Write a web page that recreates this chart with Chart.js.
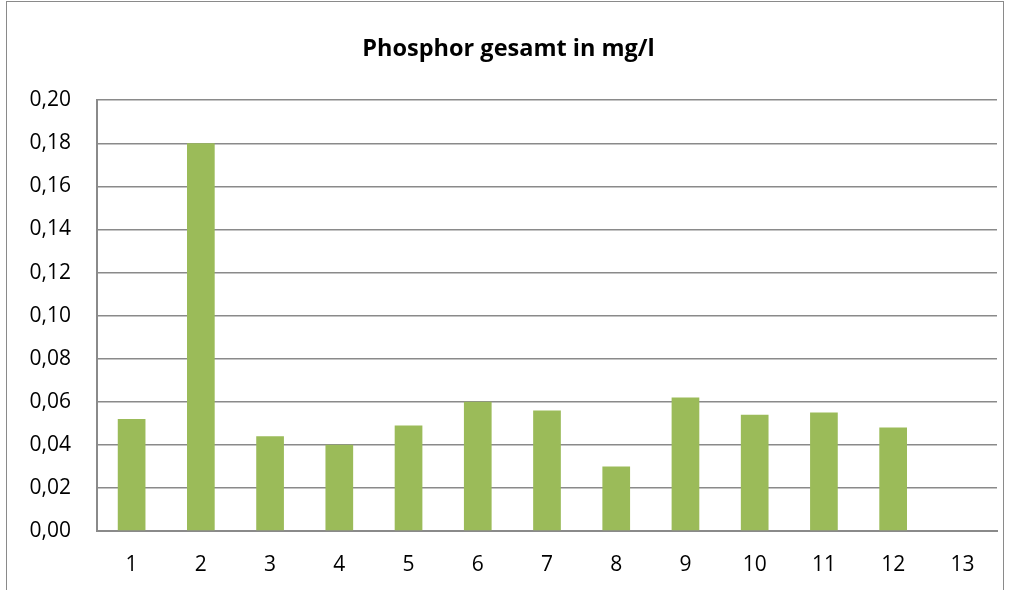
<!DOCTYPE html>
<html>
<head>
<meta charset="utf-8">
<script src="https://cdn.jsdelivr.net/npm/chart.js@4"></script>
<style>
  html, body { margin: 0; padding: 0; background: #fff; }
  #wrap { position: relative; width: 1009px; height: 590px; overflow: hidden; }
  #frame {
    position: absolute; left: 6px; top: 1px; width: 998px; height: 620px;
    border: 1.5px solid #8a8a8a; box-sizing: border-box; pointer-events: none;
  }
  canvas { position: absolute; left: 0; top: 0; }
</style>
</head>
<body>
<div id="wrap">
  <canvas id="chart" width="1009" height="590"></canvas>
  <div id="frame"></div>
</div>
<script>
const categories = ['1', '2', '3', '4', '5', '6', '7', '8', '9', '10', '11', '12', '13'];
const phosphor = [0.052, 0.18, 0.044, 0.040, 0.049, 0.060, 0.056, 0.030, 0.062, 0.054, 0.055, 0.048, null];
const yMin = 0;
const yMax = 0.20;
const yStep = 0.02;

const barColor = '#9BBB59';
const gridColor = '#8a8a8a';
const font = '"Open Sans", Lato, sans-serif';

// a tiny plugin: nudge the title a bit right, as in the original sheet
const titleShift = {
  id: 'titleShift',
  beforeDraw(chart) {
    chart.titleBlock.left += 10;
    chart.titleBlock.right += 10;
  }
};

new Chart(document.querySelector('#chart'), {
  type: 'bar',
  data: {
    labels: categories,
    datasets: [{
      label: 'Phosphor gesamt in mg/l',
      data: phosphor,
      backgroundColor: barColor,
      borderWidth: 0,
      barPercentage: 0.4,
      categoryPercentage: 1
    }]
  },
  options: {
    responsive: false,
    animation: false,
    layout: { padding: { left: 0, right: 12, top: 0, bottom: 0 } },
    scales: {
      x: {
        grid: { display: false, drawTicks: false },
        border: { display: true, color: gridColor, width: 2 },
        ticks: { color: '#000', font: { family: font, size: 21 }, padding: 21 },
        afterFit: scale => { scale.height = 59; }
      },
      y: {
        min: yMin,
        max: yMax,
        grid: { color: gridColor, lineWidth: 1.5, drawTicks: false },
        border: { display: true, color: gridColor, width: 2 },
        ticks: {
          stepSize: yStep,
          color: '#000',
          font: { family: font, size: 21 },
          padding: 26,
          callback: v => v.toFixed(2).replace('.', ',')
        },
        afterFit: scale => { scale.width = 97; }
      }
    },
    plugins: {
      legend: { display: false },
      tooltip: { enabled: false },
      title: {
        display: true,
        text: 'Phosphor gesamt in mg/l',
        color: '#000',
        font: { family: font, size: 23.5, weight: 'bold' },
        padding: { top: 35, bottom: 37 }
      }
    }
  },
  plugins: [titleShift]
});
</script>
</body>
</html>
